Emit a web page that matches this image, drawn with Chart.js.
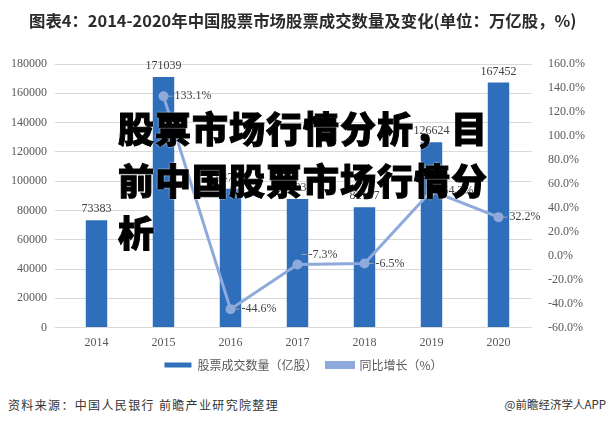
<!DOCTYPE html>
<html><head><meta charset="utf-8">
<script src="https://cdn.jsdelivr.net/npm/chart.js@4"></script>
<style>
html,body{margin:0;padding:0;background:#fff;}
#wrap{position:relative;width:607px;height:426px;overflow:hidden;background:#fff;}
#c{position:absolute;left:0;top:0;}
#title{position:absolute;left:29px;top:8px;font-family:"Noto Sans CJK SC",sans-serif;font-weight:bold;font-size:16.4px;color:#2b2b2b;white-space:nowrap;}
#overlay{position:absolute;left:118px;top:101px;width:400px;font-family:"Noto Sans CJK SC",sans-serif;font-weight:900;font-size:36px;line-height:52px;color:#000;letter-spacing:1px;-webkit-text-stroke:1px #000;text-shadow:0 0 2px #fff,0 0 2px #fff;}
#src{position:absolute;left:8px;top:396px;font-family:"Noto Sans CJK SC",sans-serif;font-size:12px;color:#333;white-space:nowrap;letter-spacing:1.35px;}
#app{position:absolute;right:1px;top:396px;font-family:"Noto Sans CJK SC",sans-serif;font-size:11.5px;color:#333;white-space:nowrap;}
</style></head>
<body><div id="wrap">
<canvas id="c" width="607" height="391"></canvas>
<div id="title">图表4：2014-2020年中国股票市场股票成交数量及变化(单位：万亿股，%)</div>
<div id="overlay">股票市场行情分析，目前中国股票市场行情分析</div>
<div id="src">资料来源：中国人民银行 前瞻产业研究院整理</div>
<div id="app">@前瞻经济学人APP</div>
</div>
<script>
const years = ["2014","2015","2016","2017","2018","2019","2020"];
const volume = [73383,171039,94756,87838,82137,126624,167452];
const growth = [null,133.1,-44.6,-7.3,-6.5,54.2,32.2];
const volumeLabel = "股票成交数量（亿股）";
const growthLabel = "同比增长（%）";
const SERIF = 'Times New Roman, Liberation Serif, serif';

const labelPlugin = {
  id:'labels',
  afterDatasetsDraw(chart){
    const ctx = chart.ctx;
    ctx.save();
    ctx.font = '12px "Liberation Serif", "Times New Roman", serif';
    ctx.fillStyle = '#404040';
    const m0 = chart.getDatasetMeta(0);
    ctx.textAlign='center'; ctx.textBaseline='bottom';
    m0.data.forEach((el,i)=>{ ctx.fillText(String(volume[i]), el.x, el.y-5); });
    const m1 = chart.getDatasetMeta(1);
    ctx.textAlign='left'; ctx.textBaseline='middle';
    ctx.strokeStyle='#A6A6A6'; ctx.lineWidth=1;
    m1.data.forEach((el,i)=>{
      if(growth[i]===null) return;
      const dy = (i===3?10:0);
      ctx.beginPath(); ctx.moveTo(el.x+4, el.y-dy); ctx.lineTo(el.x+9, el.y-dy); ctx.stroke();
      ctx.fillText(growth[i].toFixed(1)+'%', el.x+11, el.y-dy);
    });
    ctx.restore();
  }
};

new Chart(document.getElementById('c'),{
  data:{
    labels:years,
    datasets:[
      {type:'bar',label:volumeLabel,data:volume,backgroundColor:'#2F6EBA',yAxisID:'y',barPercentage:0.64,categoryPercentage:0.5,order:2},
      {type:'line',label:growthLabel,data:growth,borderColor:'#8EA9DB',backgroundColor:'#8EA9DB',borderWidth:3,pointRadius:3.5,pointBackgroundColor:'#8EA9DB',pointBorderColor:'#8EA9DB',yAxisID:'y1',order:1,tension:0}
    ]
  },
  options:{
    responsive:false,animation:false,
    layout:{padding:{top:64,left:4,right:4,bottom:10}},
    plugins:{
      legend:{position:'bottom',labels:{font:{family:'"Noto Sans CJK SC", sans-serif',size:12},color:'#595959',boxWidth:27,boxHeight:5,padding:9,
        generateLabels(chart){
          const l = Chart.defaults.plugins.legend.labels.generateLabels(chart);
          l.sort((a,b)=>a.datasetIndex-b.datasetIndex);
          return l;
        }}},
      tooltip:{enabled:false}
    },
    scales:{
      x:{grid:{display:false},border:{display:false},ticks:{padding:0,font:{family:SERIF,size:12},color:'#595959'}},
      y:{position:'left',min:0,max:180000,ticks:{stepSize:20000,callback:v=>String(v),font:{family:SERIF,size:12},color:'#595959',padding:8},grid:{color:'#D9D9D9'},border:{display:false},afterFit(s){s.width=59;}},
      y1:{position:'right',min:-60,max:160,ticks:{stepSize:20,callback:v=>v.toFixed(1)+'%',font:{family:SERIF,size:12},color:'#595959',padding:8},grid:{display:false},border:{display:false},afterFit(s){s.width=71;}}
    }
  },
  plugins:[labelPlugin]
});
</script>
</body></html>
